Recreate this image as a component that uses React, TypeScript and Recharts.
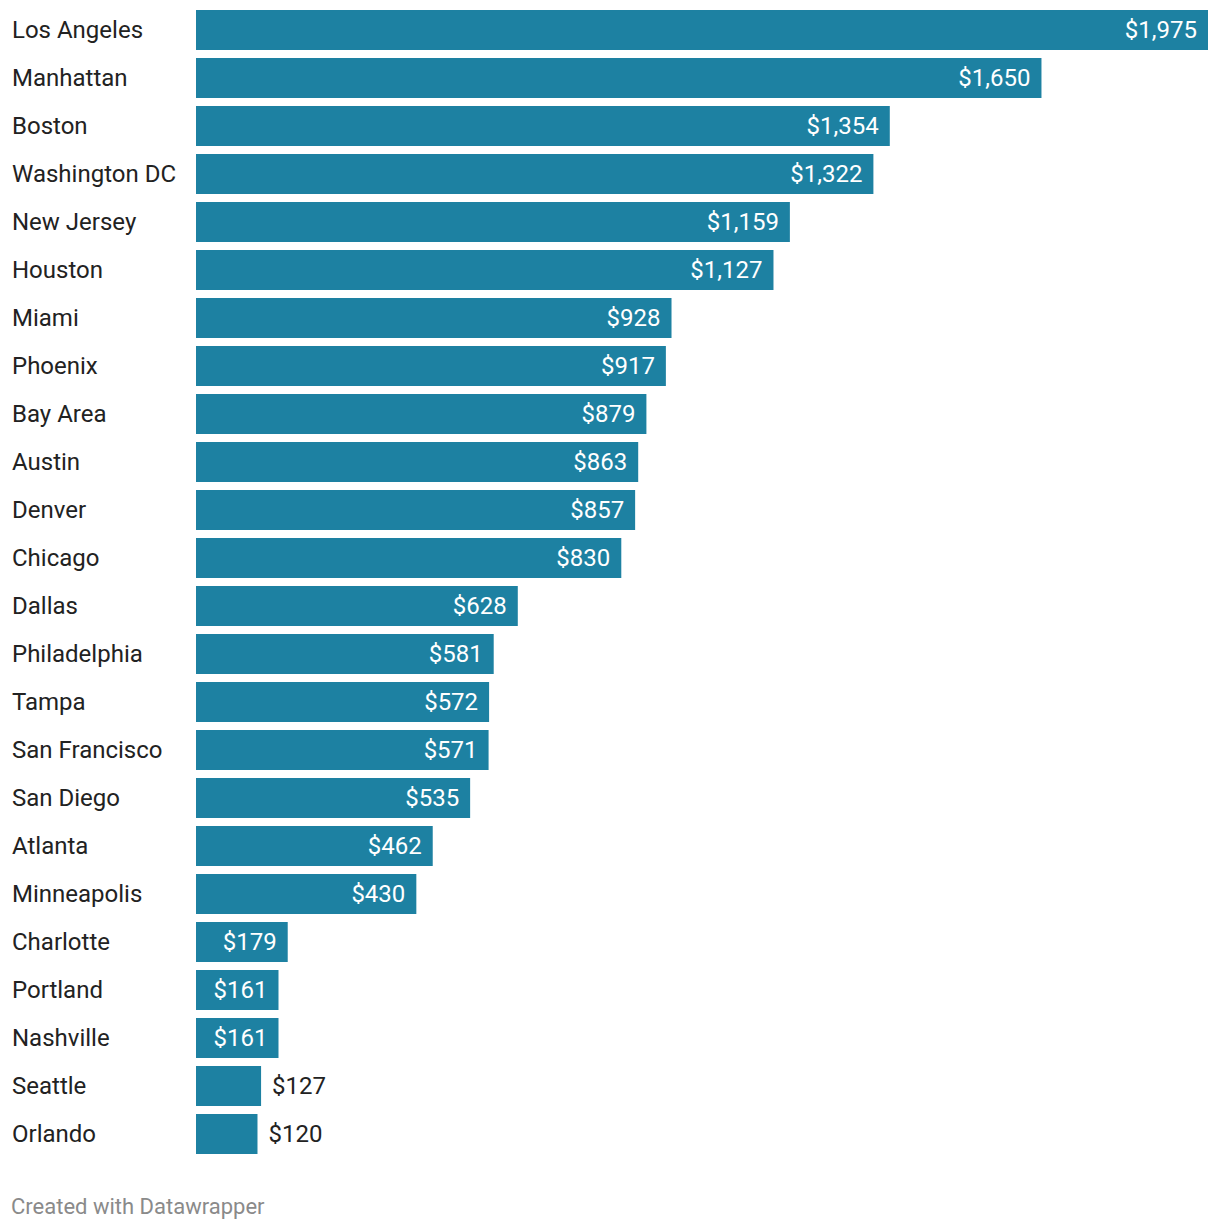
import { BarChart, Bar, XAxis, YAxis, LabelList } from 'recharts'

const cities = [
  'Los Angeles', 'Manhattan', 'Boston', 'Washington DC', 'New Jersey', 'Houston',
  'Miami', 'Phoenix', 'Bay Area', 'Austin', 'Denver', 'Chicago', 'Dallas',
  'Philadelphia', 'Tampa', 'San Francisco', 'San Diego', 'Atlanta', 'Minneapolis',
  'Charlotte', 'Portland', 'Nashville', 'Seattle', 'Orlando',
]
const amounts = [
  1975, 1650, 1354, 1322, 1159, 1127, 928, 917, 879, 863, 857, 830, 628,
  581, 572, 571, 535, 462, 430, 179, 161, 161, 127, 120,
]

const rows = cities.map((city, i) => ({ city, amount: amounts[i] }))

const BAR_COLOR = '#1d81a2'
const FONT = 'Roboto, sans-serif'

const fmt = (v: number) => '$' + v.toLocaleString('en-US')

function CityTick({ y, payload }: any) {
  return (
    <text x={12} y={y} dy={8} fontFamily={FONT} fontSize={24} fill="#222" textAnchor="start">
      {payload.value}
    </text>
  )
}

function ValueLabel({ x, y, width, height, value }: any) {
  const label = fmt(value)
  const textW = label.length * 13
  const inside = width >= textW + 22
  const cy = y + height / 2
  return (
    <text
      x={inside ? x + width - 11 : x + width + 11}
      y={cy}
      dy={8}
      fontFamily={FONT}
      fontSize={24}
      fill={inside ? '#ffffff' : '#222'}
      textAnchor={inside ? 'end' : 'start'}
    >
      {label}
    </text>
  )
}

export default function App() {
  return (
    <div style={{ position: 'absolute', left: 0, top: 0, width: 1220, height: 1230, background: '#fff' }}>
      <BarChart
        width={1220}
        height={1160}
        data={rows}
        layout="vertical"
        margin={{ top: 6, right: 12, bottom: 2, left: 0 }}
      >
        <XAxis type="number" domain={[0, 1975]} hide />
        <YAxis
          type="category"
          dataKey="city"
          width={196}
          axisLine={false}
          tickLine={false}
          tick={<CityTick />}
          interval={0}
        />
        <Bar dataKey="amount" fill={BAR_COLOR} barSize={40} isAnimationActive={false}>
          <LabelList dataKey="amount" content={<ValueLabel />} />
        </Bar>
      </BarChart>
      <div
        style={{
          position: 'absolute',
          left: 11,
          top: 1196,
          fontFamily: FONT,
          fontSize: 22,
          lineHeight: '22px',
          color: '#8a8a8a',
        }}
      >
        Created with Datawrapper
      </div>
    </div>
  )
}
